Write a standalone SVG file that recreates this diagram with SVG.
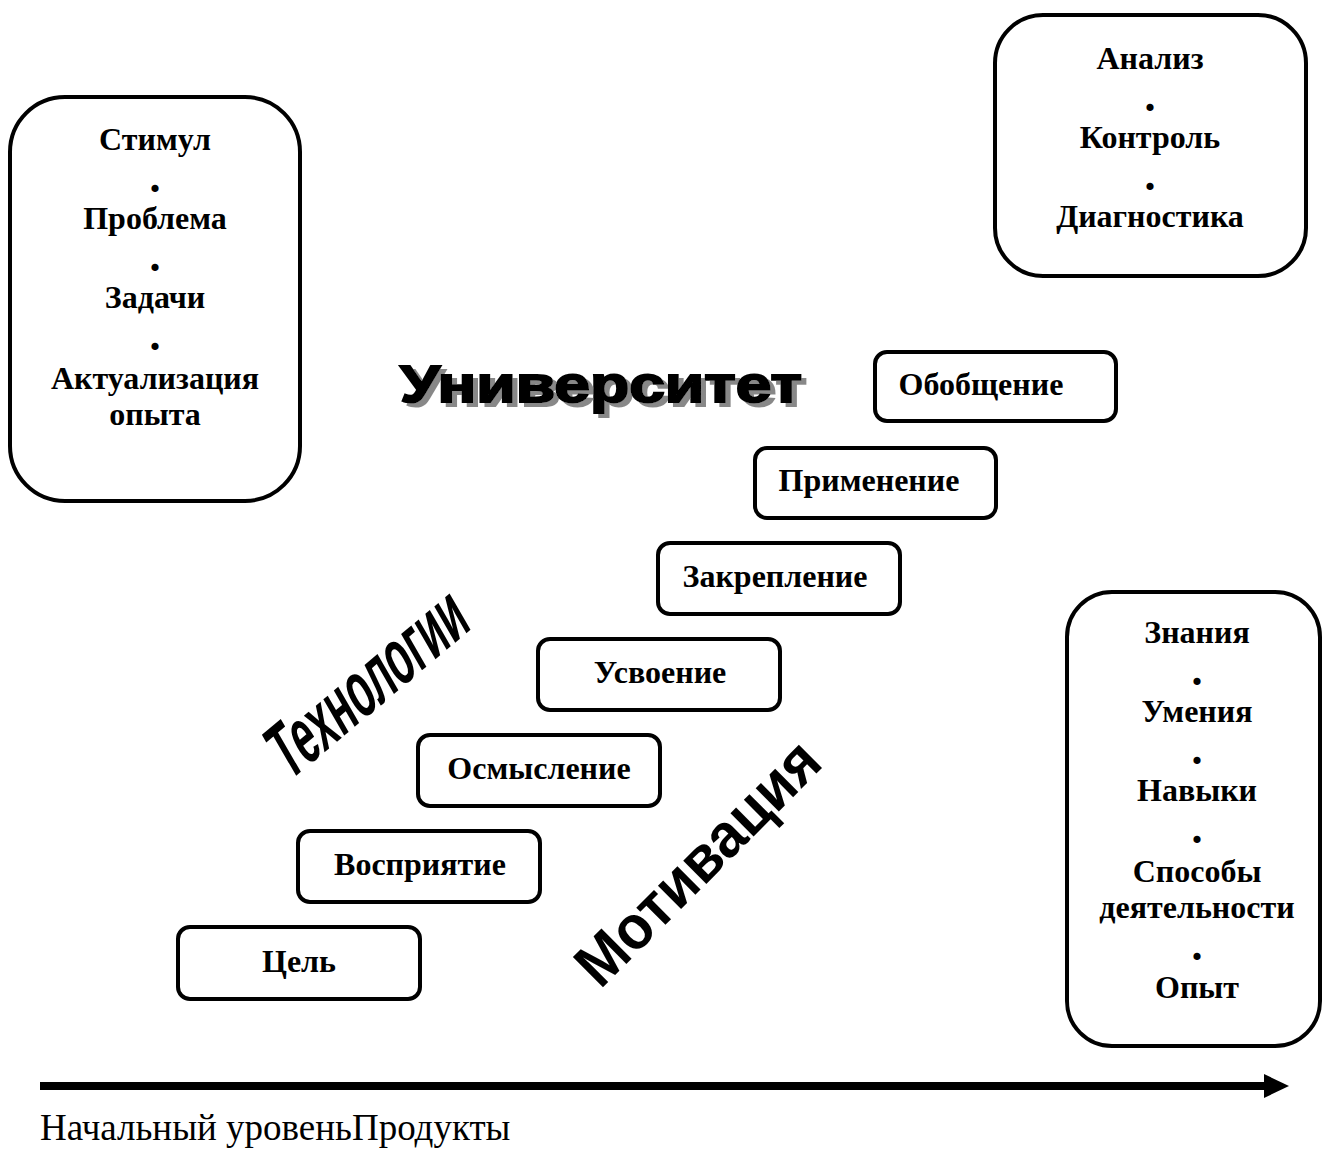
<svg xmlns="http://www.w3.org/2000/svg" width="1323" height="1153" viewBox="0 0 1323 1153">
<style>
.box{fill:#fff;stroke:#000;stroke-width:4}
.t{font-family:"Liberation Serif","Times New Roman",serif;font-weight:bold;font-size:32px;text-anchor:middle;fill:#000}
.d{font-size:44px}
.wa{font-family:"Liberation Sans",Arial,sans-serif;font-weight:bold;fill:#000}
</style>
<defs>
<filter id="shadow" x="-5%" y="-20%" width="115%" height="150%">
<feOffset in="SourceAlpha" dx="5" dy="4" result="off"/>
<feFlood flood-color="#888888"/>
<feComposite in2="off" operator="in" result="sh"/>
<feMerge><feMergeNode in="sh"/><feMergeNode in="SourceGraphic"/></feMerge>
</filter>
</defs>
<rect width="1323" height="1153" fill="#fff"/>
<g id="connectors">
<line x1="40" y1="1086" x2="1266" y2="1086" stroke="#000" stroke-width="8"/>
<polygon points="1264,1074 1289,1086 1264,1098" fill="#000"/>
</g>
<g id="start">
<rect class="box" x="10" y="97" width="290" height="404" rx="55"/>
<text class="t" x="155" y="150">Стимул</text>
<text class="t d" x="155" y="192">.</text>
<text class="t" x="155" y="229">Проблема</text>
<text class="t d" x="155" y="271">.</text>
<text class="t" x="155" y="308">Задачи</text>
<text class="t d" x="155" y="350">.</text>
<text class="t" x="155" y="389">Актуализация</text>
<text class="t" x="155" y="425">опыта</text>
</g>
<g id="control">
<rect class="box" x="995" y="15" width="311" height="261" rx="48"/>
<text class="t" x="1150" y="69">Анализ</text>
<text class="t d" x="1150" y="111">.</text>
<text class="t" x="1150" y="148">Контроль</text>
<text class="t d" x="1150" y="190">.</text>
<text class="t" x="1150" y="227">Диагностика</text>
</g>
<g id="products">
<rect class="box" x="1067" y="592" width="253" height="454" rx="45"/>
<text class="t" x="1197" y="643">Знания</text>
<text class="t d" x="1197" y="685">.</text>
<text class="t" x="1197" y="722">Умения</text>
<text class="t d" x="1197" y="764">.</text>
<text class="t" x="1197" y="801">Навыки</text>
<text class="t d" x="1197" y="843">.</text>
<text class="t" x="1197" y="882">Способы</text>
<text class="t" x="1197" y="918">деятельности</text>
<text class="t d" x="1197" y="960">.</text>
<text class="t" x="1197" y="998">Опыт</text>
</g>
<g id="step1"><rect class="box" x="178" y="927" width="242" height="72" rx="12"/><text class="t" x="299" y="972">Цель</text></g>
<g id="step2"><rect class="box" x="298" y="831" width="242" height="71" rx="12"/><text class="t" x="420" y="875">Восприятие</text></g>
<g id="step3"><rect class="box" x="418" y="735" width="242" height="71" rx="12"/><text class="t" x="539" y="779">Осмысление</text></g>
<g id="step4"><rect class="box" x="538" y="639" width="242" height="71" rx="12"/><text class="t" x="660" y="683">Усвоение</text></g>
<g id="step5"><rect class="box" x="658" y="543" width="242" height="71" rx="12"/><text class="t" x="775" y="587">Закрепление</text></g>
<g id="step6"><rect class="box" x="755" y="448" width="241" height="70" rx="12"/><text class="t" x="869" y="491">Применение</text></g>
<g id="step7"><rect class="box" x="875" y="352" width="241" height="69" rx="12"/><text class="t" x="981" y="395">Обобщение</text></g>
<g id="university">
<text class="wa" x="400" y="402" font-size="52" textLength="402" lengthAdjust="spacingAndGlyphs" stroke="#000" stroke-width="2" filter="url(#shadow)">Университет</text>
</g>
<g id="tech">
<text class="wa" transform="translate(368,683) rotate(-40) skewX(-10)" x="0" y="25" font-size="78" text-anchor="middle" textLength="240" lengthAdjust="spacingAndGlyphs">Технологии</text>
</g>
<g id="motivation">
<text class="wa" transform="translate(697,862) rotate(-45)" x="0" y="22" font-size="62" text-anchor="middle" textLength="318" lengthAdjust="spacingAndGlyphs">Мотивация</text>
</g>
<text x="40" y="1140" font-family="'Liberation Serif','Times New Roman',serif" font-size="37">Начальный уровеньПродукты</text>
</svg>
